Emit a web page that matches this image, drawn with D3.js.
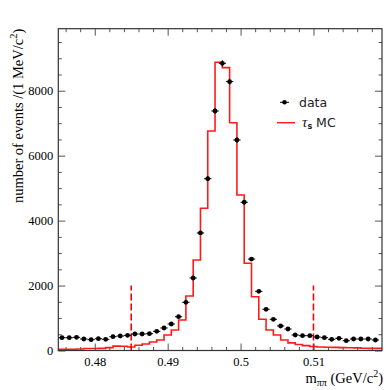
<!DOCTYPE html>
<html>
<head>
<meta charset="utf-8">
<script src="https://cdn.jsdelivr.net/npm/d3@7"></script>
<style>
  body { margin: 0; background: #fff; }
  svg { display: block; }
  .tick text { font-family: "Liberation Serif", serif; font-size: 12.5px; fill: #000; }
  .axis-title { font-family: "Liberation Serif", serif; font-size: 14.5px; fill: #000; }
  .legend { font-family: "DejaVu Sans", sans-serif; font-size: 12.5px; fill: #222; }
</style>
</head>
<body>
<svg width="390" height="390"></svg>
<script>
"use strict";

// data histogram: 1 MeV bins starting at 0.475 GeV
const binStart = 0.475;
const binWidth = 0.001;
const dataCounts = [
  394, 394, 406, 354, 333, 363, 345, 425, 447, 468,
  508, 508, 517, 591, 693, 816, 1041, 1484, 2233, 3620,
  5290, 7376, 8845, 8280, 6483, 4565, 2815, 1823, 1269, 961,
  755, 662, 477, 456, 456, 416, 394, 345, 376, 302,
  354, 354, 354, 323
];

// MC histogram, bins centred on 0.475 + k MeV
const mcStart = 0.4745;
const mcCounts = [
  40, 40, 40, 45, 60, 60, 65, 90, 135, 130,
  108, 160, 200, 262, 323, 477, 631, 939, 1678, 2787,
  4380, 6760, 8875, 8710, 7015, 4790, 2686, 1657, 961, 631,
  477, 323, 235, 185, 150, 125, 110, 100, 95, 90,
  85, 80, 70, 65, 65, 60
];

const cutValues = [0.485, 0.51];
const cutHeight = 2000;

const xMajorTicks = [0.48, 0.49, 0.5, 0.51];
const xMinorTicks = [0.476, 0.478, 0.482, 0.484, 0.486, 0.488, 0.492, 0.494, 0.496, 0.498,
  0.502, 0.504, 0.506, 0.508, 0.512, 0.514, 0.516, 0.518];
const yMajorTicks = [0, 2000, 4000, 6000, 8000];
const yMinorTicks = [500, 1000, 1500, 2500, 3000, 3500, 4500, 5000, 5500, 6500, 7000, 7500, 8500, 9000, 9500];

const svg = d3.select("svg");
const frameL = 58.3, frameR = 382, frameT = 28.7, frameB = 350.5;

const x = d3.scaleLinear().domain([0.475, 0.5194]).range([frameL, frameR]);
const y = d3.scaleLinear().domain([0, 9910]).range([frameB, frameT]);

svg.append("clipPath").attr("id", "plot-clip")
  .append("rect")
  .attr("x", frameL).attr("y", frameT)
  .attr("width", frameR - frameL).attr("height", frameB - frameT);

const plot = svg.append("g").attr("clip-path", "url(#plot-clip)");

// MC step histogram
const mcPoints = mcCounts.map((c, k) => [mcStart + k * binWidth, c]);
mcPoints.push([mcStart + mcCounts.length * binWidth, mcCounts[mcCounts.length - 1]]);

plot.append("path")
  .datum(mcPoints)
  .attr("fill", "none")
  .attr("stroke", "#ff1a1a")
  .attr("stroke-width", 1.6)
  .attr("d", d3.line().x(d => x(d[0])).y(d => y(d[1])).curve(d3.curveStepAfter));

// cut lines
plot.selectAll(".cut")
  .data(cutValues)
  .enter()
  .append("line")
  .attr("class", "cut")
  .attr("x1", d => x(d)).attr("x2", d => x(d))
  .attr("y1", y(0)).attr("y2", y(cutHeight))
  .attr("stroke", "#ff0000")
  .attr("stroke-width", 1.6)
  .attr("stroke-dasharray", "7,3");

// data points with error bars
const pts = plot.selectAll(".pt")
  .data(dataCounts)
  .enter()
  .append("g")
  .attr("class", "pt");

pts.append("line")
  .attr("x1", (d, i) => x(binStart + i * binWidth))
  .attr("x2", (d, i) => x(binStart + (i + 1) * binWidth))
  .attr("y1", d => y(d)).attr("y2", d => y(d))
  .attr("stroke", "#000").attr("stroke-width", 1);

pts.append("line")
  .attr("x1", (d, i) => x(binStart + (i + 0.5) * binWidth))
  .attr("x2", (d, i) => x(binStart + (i + 0.5) * binWidth))
  .attr("y1", d => y(d - Math.sqrt(d))).attr("y2", d => y(d + Math.sqrt(d)))
  .attr("stroke", "#000").attr("stroke-width", 1);

pts.append("circle")
  .attr("cx", (d, i) => x(binStart + (i + 0.5) * binWidth))
  .attr("cy", d => y(d))
  .attr("r", 2.4)
  .attr("fill", "#000");

// axes, ROOT style ticks pointing inward on all four sides
const fmtX = d => String(d);
svg.append("g")
  .attr("transform", `translate(0,${frameB})`)
  .call(d3.axisBottom(x).tickValues(xMajorTicks).tickSize(-7).tickPadding(7).tickFormat(fmtX))
  .call(g => g.select(".domain").remove());
svg.append("g")
  .attr("transform", `translate(0,${frameB})`)
  .call(d3.axisBottom(x).tickValues(xMinorTicks).tickSize(-3.5).tickFormat(""))
  .call(g => g.select(".domain").remove());
svg.append("g")
  .attr("transform", `translate(0,${frameT})`)
  .call(d3.axisTop(x).tickValues(xMajorTicks).tickSize(-7).tickFormat(""))
  .call(g => g.select(".domain").remove());
svg.append("g")
  .attr("transform", `translate(0,${frameT})`)
  .call(d3.axisTop(x).tickValues(xMinorTicks).tickSize(-3.5).tickFormat(""))
  .call(g => g.select(".domain").remove());

svg.append("g")
  .attr("transform", `translate(${frameL},0)`)
  .call(d3.axisLeft(y).tickValues(yMajorTicks).tickSize(-7).tickPadding(5).tickFormat(d3.format("d")))
  .call(g => g.select(".domain").remove());
svg.append("g")
  .attr("transform", `translate(${frameL},0)`)
  .call(d3.axisLeft(y).tickValues(yMinorTicks).tickSize(-3.5).tickFormat(""))
  .call(g => g.select(".domain").remove());
svg.append("g")
  .attr("transform", `translate(${frameR},0)`)
  .call(d3.axisRight(y).tickValues(yMajorTicks).tickSize(-7).tickFormat(""))
  .call(g => g.select(".domain").remove());
svg.append("g")
  .attr("transform", `translate(${frameR},0)`)
  .call(d3.axisRight(y).tickValues(yMinorTicks).tickSize(-3.5).tickFormat(""))
  .call(g => g.select(".domain").remove());

svg.selectAll(".tick line").attr("stroke", "#555");

// frame
svg.append("rect")
  .attr("x", frameL).attr("y", frameT)
  .attr("width", frameR - frameL).attr("height", frameB - frameT)
  .attr("fill", "none")
  .attr("stroke", "#333")
  .attr("stroke-width", 1.2);

// axis titles
const yTitle = svg.append("text")
  .attr("class", "axis-title")
  .attr("transform", "rotate(-90)")
  .attr("x", -frameT)
  .attr("y", 23)
  .attr("font-size", "15.5px")
  .attr("text-anchor", "end");
yTitle.append("tspan").text("number of events /(1 MeV/c");
yTitle.append("tspan").attr("dy", -6).attr("font-size", "10.5px").text("2");
yTitle.append("tspan").attr("dy", 6).text(")");

const xTitle = svg.append("text")
  .attr("class", "axis-title")
  .attr("x", 383)
  .attr("y", 383)
  .attr("text-anchor", "end");
xTitle.append("tspan").text("m");
xTitle.append("tspan").attr("dy", 3).attr("font-size", "10px").text("ππ");
xTitle.append("tspan").attr("dy", -3).text(" (GeV/c");
xTitle.append("tspan").attr("dy", -6).attr("font-size", "10px").text("2");
xTitle.append("tspan").attr("dy", 6).text(")");

// legend
const legend = svg.append("g");
legend.append("line")
  .attr("x1", 280).attr("x2", 289).attr("y1", 102.3).attr("y2", 102.3)
  .attr("stroke", "#000");
legend.append("circle")
  .attr("cx", 284.5).attr("cy", 102.3).attr("r", 2.3).attr("fill", "#000");
legend.append("text")
  .attr("class", "legend")
  .attr("x", 299).attr("y", 106.5)
  .text("data");

legend.append("line")
  .attr("x1", 277).attr("x2", 295).attr("y1", 122.7).attr("y2", 122.7)
  .attr("stroke", "#ff1a1a").attr("stroke-width", 1.4);
const mcLabel = legend.append("text")
  .attr("class", "legend")
  .attr("x", 302).attr("y", 127);
mcLabel.append("tspan")
  .attr("font-family", "Liberation Serif").attr("font-style", "italic").attr("font-size", "15px")
  .text("τ");
mcLabel.append("tspan").attr("dy", 2).attr("font-size", "8px").attr("font-weight", "bold").text("s");
mcLabel.append("tspan").attr("dy", -2).text(" MC");
</script>
</body>
</html>
